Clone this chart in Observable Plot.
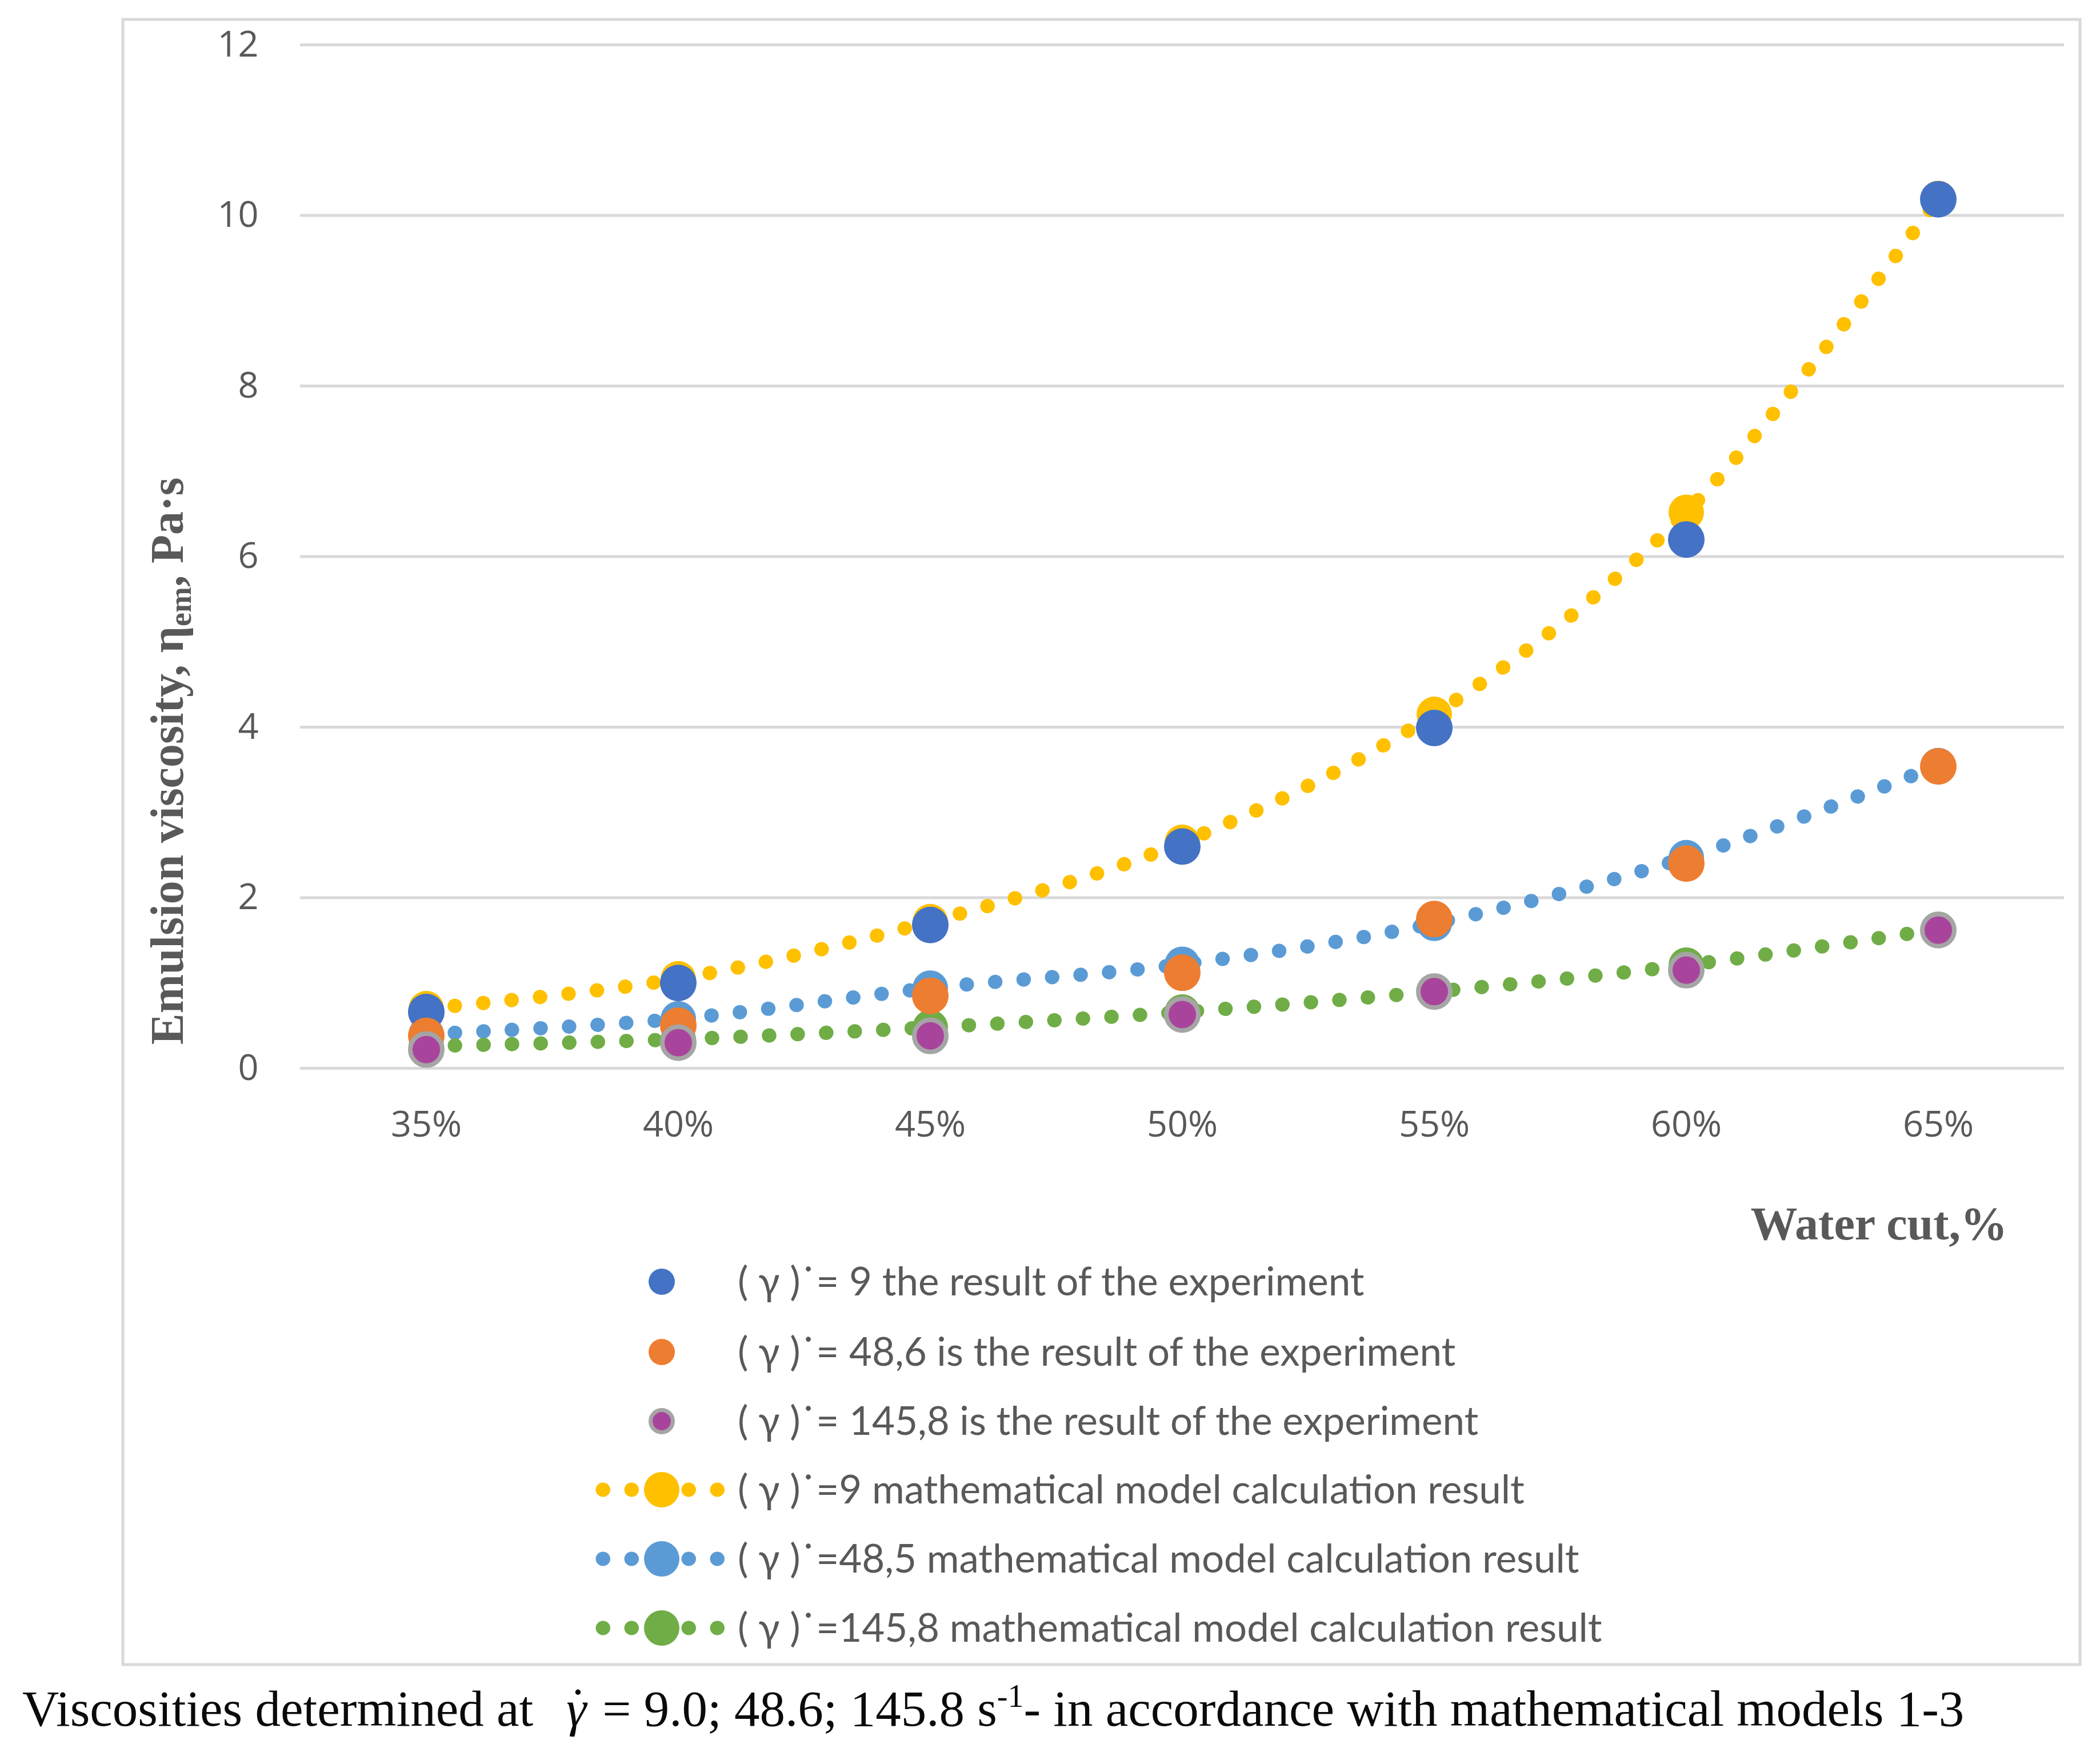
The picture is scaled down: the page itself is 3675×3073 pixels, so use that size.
<!DOCTYPE html>
<html>
<head>
<meta charset="utf-8">
<script src="https://cdn.jsdelivr.net/npm/d3@7"></script>
<script src="https://cdn.jsdelivr.net/npm/@observablehq/plot@0.6"></script>
<style>
  html, body { margin: 0; padding: 0; background: #ffffff; }
</style>
</head>
<body>
<script>
// ---- data ----
const waterCut = [35, 40, 45, 50, 55, 60, 65];            // %
const yTicks = [0, 2, 4, 6, 8, 10, 12];
const exp9 = [0.66, 1.00, 1.68, 2.60, 3.99, 6.20, 10.19];
const exp486 = [0.38, 0.50, 0.85, 1.12, 1.75, 2.40, 3.54];
const exp1458 = [0.22, 0.30, 0.38, 0.63, 0.90, 1.15, 1.62];
const model9 = [0.70, 1.05, 1.72, 2.65, 4.15, 6.52, 10.20];
const model485 = [0.40, 0.58, 0.94, 1.22, 1.70, 2.47, 3.55];
const model1458 = [0.26, 0.34, 0.48, 0.66, 0.90, 1.21, 1.63];

const legendLabels = [
  "( γ )˙= 9 the result of the experiment",
  "( γ )˙= 48,6 is the result of the experiment",
  "( γ )˙= 145,8 is the result of the experiment",
  "( γ )˙=9 mathematical model calculation result",
  "( γ )˙=48,5 mathematical model calculation result",
  "( γ )˙=145,8 mathematical model calculation result"
];
const colors = {
  exp9: "#4472c4", exp486: "#ed7d31", exp1458: "#a9449c", ring: "#a5a5a5",
  model9: "#ffc000", model485: "#5b9bd5", model1458: "#70ad47"
};

const toRows = (vals, key) => waterCut.map((c, i) => ({cut: c, v: vals[i], key}));
const m9 = toRows(model9, "model9"), m485 = toRows(model485, "model485"), m1458 = toRows(model1458, "model1458");
const e9 = toRows(exp9, "exp9"), e486 = toRows(exp486, "exp486"), e1458 = toRows(exp1458, "exp1458");

const dotted = {strokeWidth: 25, strokeDasharray: "0.5 49.5", strokeLinecap: "round", curve: "catmull-rom"};

const W = 3675, H = 3073;
const chart = Plot.plot({
  width: W, height: H,
  marginLeft: 525, marginRight: 63, marginTop: 78, marginBottom: H - 1869,
  style: {fontFamily: "'Open Sans', sans-serif", fontSize: "63px", color: "#595959", background: "#ffffff"},
  x: {domain: [32.5, 67.5], label: null},
  y: {domain: [0, 12], label: null},
  marks: [
    Plot.gridY(yTicks, {stroke: "#d9d9d9", strokeOpacity: 1, strokeWidth: 5}),
    Plot.axisY(yTicks, {tickSize: 0, tickPadding: 73, tickFormat: d => String(d), label: null}),
    Plot.axisX(waterCut, {tickSize: 0, tickPadding: 75, tickFormat: d => d + "%", label: null}),
    Plot.line(m9, {x: "cut", y: "v", stroke: colors.model9, ...dotted}),
    Plot.line(m485, {x: "cut", y: "v", stroke: colors.model485, ...dotted}),
    Plot.line(m1458, {x: "cut", y: "v", stroke: colors.model1458, ...dotted}),
    Plot.dot(m9, {x: "cut", y: "v", r: 31, fill: colors.model9}),
    Plot.dot(m485, {x: "cut", y: "v", r: 31, fill: colors.model485}),
    Plot.dot(m1458, {x: "cut", y: "v", r: 31, fill: colors.model1458}),
    Plot.dot(e9, {x: "cut", y: "v", r: 32, fill: colors.exp9}),
    Plot.dot(e486, {x: "cut", y: "v", r: 32, fill: colors.exp486}),
    Plot.dot(e1458, {x: "cut", y: "v", r: 28, fill: colors.exp1458, stroke: colors.ring, strokeWidth: 8})
  ]
});
document.body.appendChild(chart);

const svg = d3.select(chart);

// chart border
svg.insert("rect", ":first-child")
  .attr("x", 215).attr("y", 34).attr("width", 3640 - 215).attr("height", 2913 - 34)
  .attr("fill", "none").attr("stroke", "#d9d9d9").attr("stroke-width", 5);

// y-axis title
const yt = svg.append("text")
  .attr("transform", "translate(320,1332) rotate(-90)")
  .attr("text-anchor", "middle")
  .attr("font-family", "'Liberation Serif', 'Times New Roman', serif")
  .attr("font-weight", "bold").attr("font-size", 82).attr("fill", "#595959");
yt.append("tspan").text("Emulsion viscosity, η");
yt.append("tspan").attr("font-size", 54).attr("dy", 14).text("em");
yt.append("tspan").attr("dy", -14).text(", Pa·s");

// x-axis title
svg.append("text")
  .attr("x", 3513).attr("y", 2169).attr("text-anchor", "end")
  .attr("font-family", "'Liberation Serif', 'Times New Roman', serif")
  .attr("font-weight", "bold").attr("font-size", 82).attr("fill", "#595959")
  .text("Water cut,%");

// legend
const rowsY = [2243, 2366, 2487, 2607, 2728, 2849];
const legendKinds = [
  {type: "dot", fill: colors.exp9},
  {type: "dot", fill: colors.exp486},
  {type: "ring", fill: colors.exp1458, stroke: colors.ring},
  {type: "line", fill: colors.model9},
  {type: "line", fill: colors.model485},
  {type: "line", fill: colors.model1458}
];
const lg = svg.append("g").attr("text-anchor", "start");
legendKinds.forEach((k, i) => {
  const y = rowsY[i];
  if (k.type === "dot") {
    lg.append("circle").attr("cx", 1158).attr("cy", y).attr("r", 23).attr("fill", k.fill);
  } else if (k.type === "ring") {
    lg.append("circle").attr("cx", 1158).attr("cy", y).attr("r", 19.5)
      .attr("fill", k.fill).attr("stroke", k.stroke).attr("stroke-width", 7);
  } else {
    lg.append("line").attr("x1", 1055).attr("x2", 1258).attr("y1", y).attr("y2", y)
      .attr("stroke", k.fill).attr("stroke-width", 25)
      .attr("stroke-dasharray", "0.5 49.5").attr("stroke-linecap", "round");
    lg.append("circle").attr("cx", 1158).attr("cy", y).attr("r", 31).attr("fill", k.fill);
  }
  lg.append("text").attr("x", 1291).attr("y", y).attr("dy", "0.35em")
    .attr("text-anchor", "start")
    .attr("font-family", "Lato, 'Open Sans', sans-serif").attr("font-size", 69)
    .attr("fill", "#595959").text(legendLabels[i]);
});

// caption below the chart box
const cap = svg.append("text")
  .attr("x", 39).attr("y", 3020).attr("text-anchor", "start")
  .attr("font-family", "'Liberation Serif', 'Times New Roman', serif")
  .attr("font-size", 89).attr("fill", "#0a0a0a");
cap.append("tspan").text("Viscosities determined at");
cap.append("tspan").attr("dx", 58).attr("font-style", "italic").text("γ");
cap.append("tspan").attr("dx", -30).attr("dy", -4).text("˙");
cap.append("tspan").attr("dx", 6).attr("dy", 4).text(" = 9.0; 48.6; 145.8 s");
cap.append("tspan").attr("font-size", 56).attr("dy", -33).text("-1");
cap.append("tspan").attr("dy", 33).text("- in accordance with mathematical models 1-3");
</script>
</body>
</html>
